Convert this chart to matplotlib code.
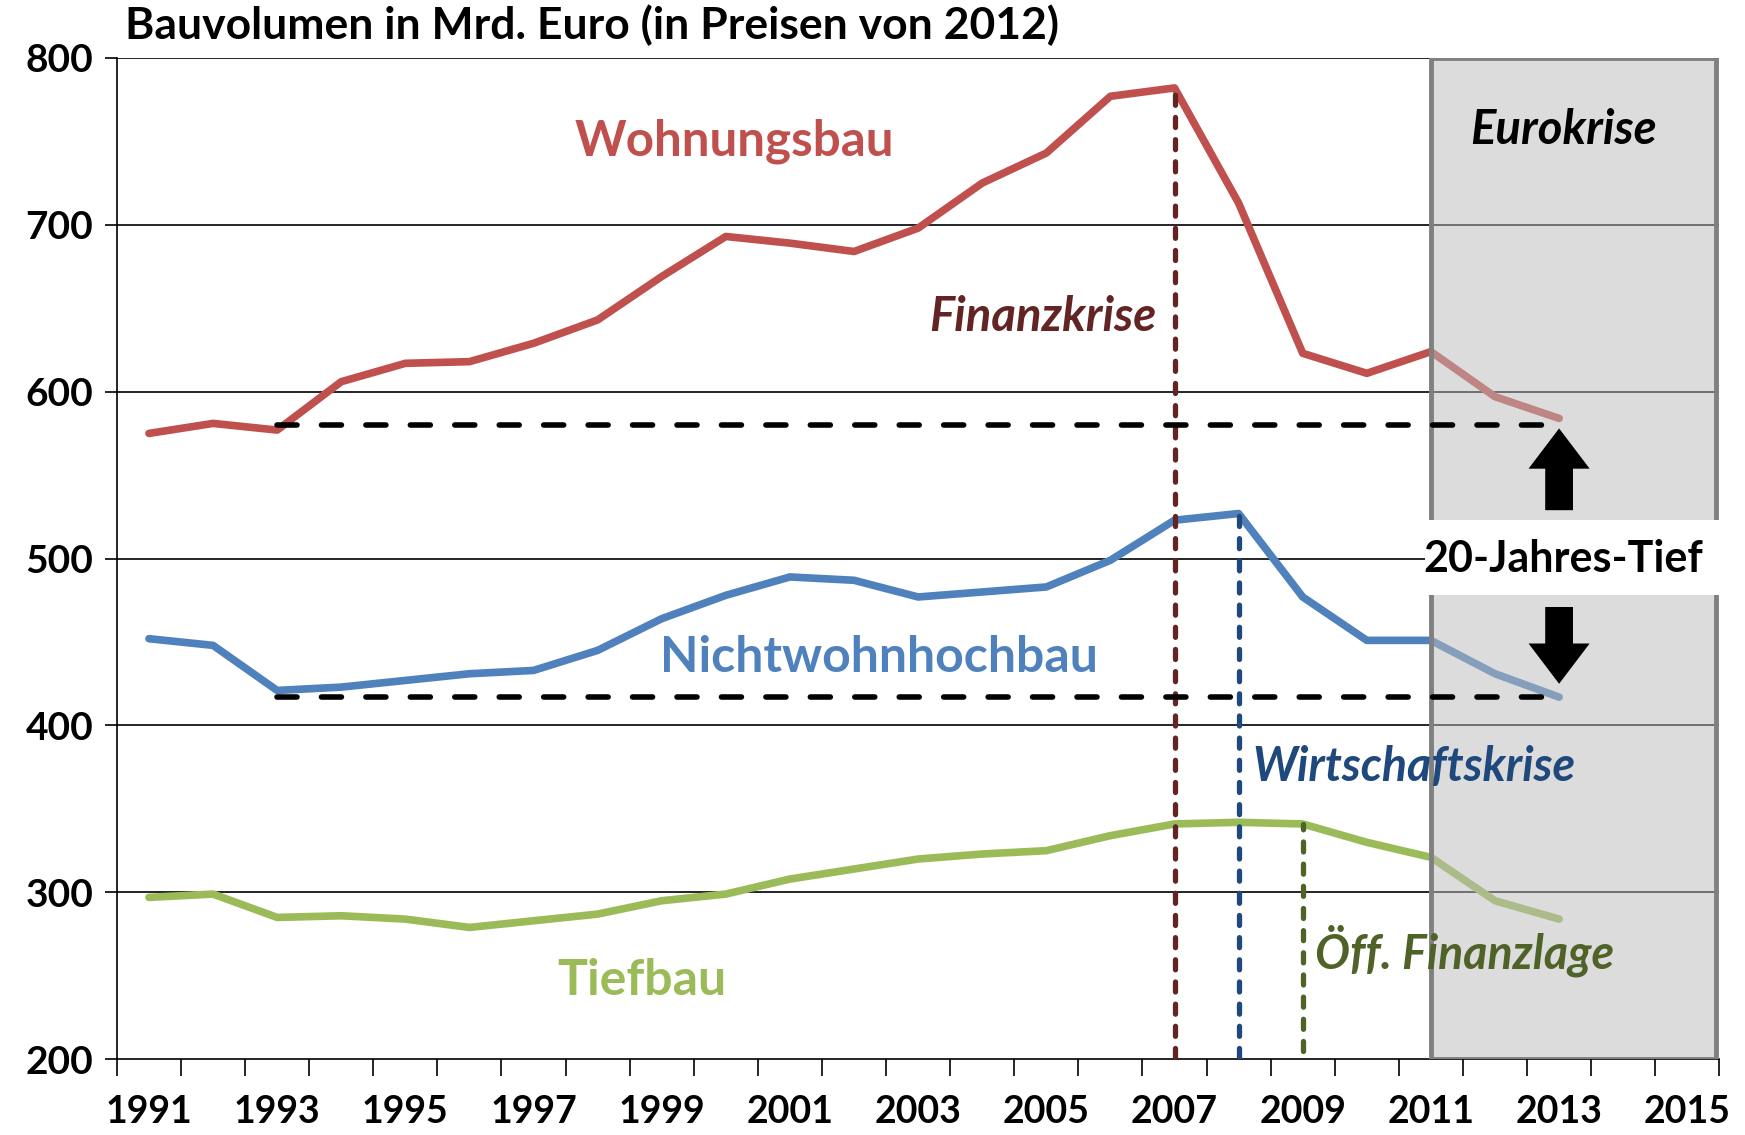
import matplotlib.pyplot as plt
from matplotlib.patches import Rectangle

plt.rcParams['font.family'] = ['Lato', 'DejaVu Sans']
plt.rcParams['font.weight'] = 'bold'

# Bauvolumen in Mrd. Euro (Preise 2012)
jahre = list(range(1991, 2014))
wohnungsbau = [575, 581, 577, 606, 617, 618, 629, 643, 669, 693, 689, 684,
               698, 725, 743, 777, 782, 713, 623, 611, 624, 597, 584]
nichtwohn = [452, 448, 421, 423, 427, 431, 433, 445, 464, 478, 489, 487,
             477, 480, 483, 499, 523, 527, 477, 451, 451, 431, 417]
tiefbau = [297, 299, 285, 286, 284, 279, 283, 287, 295, 299, 308, 314,
           320, 323, 325, 334, 341, 342, 341, 330, 321, 295, 284]

x_labels = list(range(1991, 2016, 2))
y_ticks = [200, 300, 400, 500, 600, 700, 800]

tief_wohn = 580
tief_nwhb = 417

rot = '#C0504D'
blau = '#4F81BD'
gruen = '#9BBB59'

fig = plt.figure(figsize=(17.45, 11.35), dpi=100)
ax = fig.add_axes([0.067, 0.0667, 0.9183, 0.8823])

ax.set_xlim(1990.5, 2015.5)
ax.set_ylim(200, 800)

for v in y_ticks[1:]:
    ax.axhline(v, color='black', lw=1.2, zorder=1)

ax.plot(jahre, wohnungsbau, color=rot, lw=5.5, solid_capstyle='round', zorder=3)
ax.plot(jahre, nichtwohn, color=blau, lw=5.5, solid_capstyle='round', zorder=3)
ax.plot(jahre, tiefbau, color=gruen, lw=5.5, solid_capstyle='round', zorder=3)

# Krisen-Markierungen
i07 = jahre.index(2007)
i08 = jahre.index(2008)
i09 = jahre.index(2009)
strich = dict(lw=3.8, dashes=(1.9, 2.3), dash_capstyle='round', zorder=4)
ax.plot([2007, 2007], [201, wohnungsbau[i07]], color='#632523', **strich)
ax.plot([2008, 2008], [201, nichtwohn[i08]], color='#1F497D', **strich)
ax.plot([2009, 2009], [205, tiefbau[i09]], color='#4F6228', **strich)

# Eurokrise-Feld (halbtransparent ueber den Linien)
ax.add_patch(Rectangle((2011, 200), 4.45, 600, facecolor='#bbbbbb', alpha=0.5,
                       edgecolor='none', zorder=5))
ax.add_patch(Rectangle((2011, 200), 4.45, 600, facecolor='none',
                       edgecolor='#808080', lw=3.5, zorder=5))

ax.plot([1993, 2013], [tief_wohn, tief_wohn], color='black', lw=4,
        dashes=(3.6, 4.4), dash_capstyle='round', zorder=6)
ax.plot([1993, 2013], [tief_nwhb, tief_nwhb], color='black', lw=4,
        dashes=(3.6, 4.4), dash_capstyle='round', zorder=6)

pfeil = dict(arrowstyle='simple,head_length=2.9,head_width=4.4,tail_width=2.0',
             fc='black', ec='none', shrinkA=0, shrinkB=0, mutation_scale=10)
ax.annotate('', xy=(2013, 578), xytext=(2013, 529), arrowprops=pfeil, zorder=7)
ax.annotate('', xy=(2013, 425), xytext=(2013, 471), arrowprops=pfeil, zorder=7)

ax.add_patch(Rectangle((2010.9, 478), 4.6, 45, facecolor='white',
                       edgecolor='none', zorder=7))
ax.text(2013.07, 500, '20-Jahres-Tief', fontsize=31, ha='center', va='center',
        color='black', zorder=8)
ax.text(2013.07, 757, 'Eurokrise', fontsize=34, style='italic', ha='center',
        va='center', color='black', zorder=8)

ax.text(2000.14, 750, 'Wohnungsbau', fontsize=35.5, color=rot, ha='center', va='center')
ax.text(2002.39, 441, 'Nichtwohnhochbau', fontsize=36, color=blau, ha='center', va='center')
ax.text(1998.69, 247, 'Tiefbau', fontsize=36, color=gruen, ha='center', va='center')
ax.text(2004.94, 645, 'Finanzkrise', fontsize=34, style='italic', color='#632523',
        ha='center', va='center')
ax.text(2010.74, 375, 'Wirtschaftskrise', fontsize=33.5, style='italic', color='#1F497D',
        ha='center', va='center', zorder=8)
ax.text(2011.52, 265, 'Öff. Finanzlage', fontsize=33.5, style='italic', color='#4F6228',
        ha='center', va='center', zorder=8)

fig.text(0.0714, 0.978, 'Bauvolumen in Mrd. Euro (in Preisen von 2012)',
         fontsize=32, ha='left', va='center')

ax.set_yticks(y_ticks)
ax.set_yticklabels([str(v) for v in y_ticks], fontsize=28)
ax.tick_params(axis='y', length=9, width=1.2, pad=8)

ax.set_xticks(x_labels)
ax.set_xticklabels([str(v) for v in x_labels], fontsize=27)
ax.set_xticks([y + 0.5 for y in range(1990, 2016)], minor=True)
ax.tick_params(axis='x', which='major', length=0, pad=26)
ax.tick_params(axis='x', which='minor', length=12, width=1.2)

for s in ['top', 'right']:
    ax.spines[s].set_visible(False)
ax.spines['left'].set_linewidth(1.2)
ax.spines['bottom'].set_linewidth(1.2)

fig.savefig('out.png', dpi=100)
